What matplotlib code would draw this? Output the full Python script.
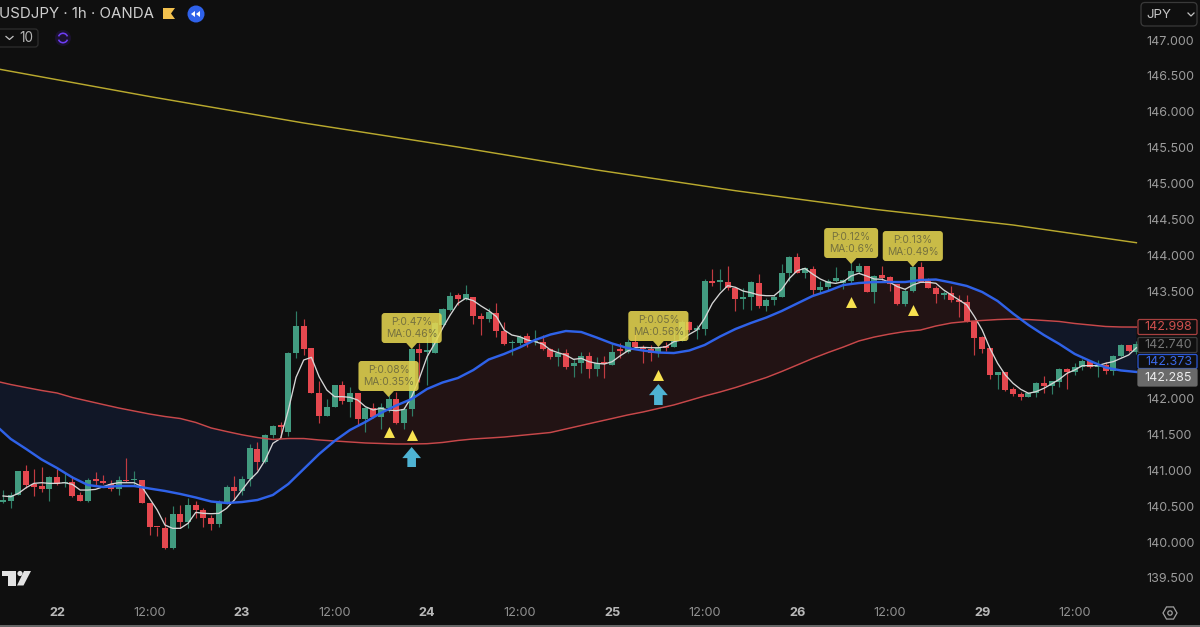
#!/usr/bin/env python3

import numpy as np
import matplotlib

matplotlib.use("Agg")
import matplotlib.pyplot as plt
from matplotlib.patches import Circle, FancyBboxPatch, Polygon, Wedge

plt.rcParams["font.family"] = ["Inter", "DejaVu Sans"]

# Hourly bars, numbered from midnight on the 22nd (weekend removed)
first_bar = -7

opens = [
    140.564, 140.573, 140.652, 140.986, 140.810, 140.787, 140.740, 140.907, 140.819, 140.833,
    140.652, 140.577, 140.866, 140.847, 140.815, 140.735, 140.870, 140.861, 140.866, 140.550,
    140.215, 140.196, 139.918, 140.396, 140.275, 140.517, 140.452, 140.336, 140.252, 140.540,
    140.773, 140.712, 140.875, 141.298, 141.112, 141.493, 141.618, 141.530, 142.641, 143.013,
    142.706, 142.083, 141.758, 141.888, 142.190, 141.958, 142.074, 141.712, 141.865, 141.739,
    141.865, 141.990, 141.656, 141.851, 142.692, 142.650, 142.641, 143.027, 143.236, 143.445,
    143.389, 143.412, 143.152, 143.110, 143.194, 142.948, 142.771, 142.780, 142.873, 142.785,
    142.785, 142.687, 142.576, 142.632, 142.455, 142.492, 142.594, 142.408, 142.501, 142.469,
    142.678, 142.645, 142.794, 142.724, 142.692, 142.645, 142.734, 142.715, 142.808, 143.073,
    142.957, 142.966, 143.644, 143.626, 143.631, 143.547, 143.394, 143.417, 143.612, 143.296,
    143.380, 143.412, 143.751, 143.979, 143.756, 143.807, 143.514, 143.552, 143.644, 143.617,
    143.644, 143.771, 143.854, 143.487, 143.720, 143.692, 143.594, 143.315, 143.497, 143.836,
    143.641, 143.538, 143.450, 143.469, 143.376, 143.352, 143.078, 142.855, 142.702, 142.335,
    142.372, 142.130, 142.065, 142.028, 142.084, 142.219, 142.181, 142.237, 142.414, 142.372,
    142.437, 142.521, 142.446, 142.470, 142.391, 142.595, 142.744, 142.650,
]
highs = [
    140.726, 140.703, 140.986, 141.075, 141.019, 141.051, 140.921, 141.014, 140.973, 140.926,
    140.694, 140.893, 140.982, 140.935, 140.866, 140.921, 141.177, 140.991, 140.866, 140.550,
    140.215, 140.345, 140.508, 140.517, 140.619, 140.573, 140.471, 140.378, 140.587, 140.796,
    140.926, 140.926, 141.368, 141.391, 141.507, 141.637, 141.670, 142.645, 143.222, 143.110,
    142.706, 142.251, 141.990, 142.190, 142.246, 142.158, 142.074, 141.888, 141.935, 141.944,
    142.051, 142.097, 141.888, 142.701, 142.771, 142.887, 143.064, 143.259, 143.491, 143.468,
    143.584, 143.412, 143.189, 143.259, 143.338, 143.073, 142.818, 142.887, 142.920, 142.957,
    142.887, 142.701, 142.701, 142.687, 142.548, 142.655, 142.655, 142.585, 142.594, 142.757,
    142.780, 142.827, 142.957, 142.748, 142.748, 142.734, 142.794, 142.957, 143.096, 143.087,
    143.026, 143.663, 143.807, 143.802, 143.854, 143.547, 143.538, 143.640, 143.737, 143.398,
    143.445, 143.877, 143.988, 144.026, 143.840, 143.854, 143.640, 143.663, 143.840, 143.663,
    143.886, 143.887, 143.854, 143.724, 143.854, 143.710, 143.594, 143.538, 143.850, 143.901,
    143.678, 143.576, 143.506, 143.576, 143.445, 143.445, 143.083, 142.878, 142.702, 142.367,
    142.372, 142.167, 142.098, 142.098, 142.228, 142.321, 142.251, 142.432, 142.432, 142.493,
    142.549, 142.530, 142.539, 142.516, 142.609, 142.762, 142.753, 142.800,
]
lows = [
    140.550, 140.471, 140.652, 140.749, 140.643, 140.703, 140.573, 140.796, 140.773, 140.633,
    140.573, 140.559, 140.796, 140.810, 140.717, 140.652, 140.842, 140.782, 140.540, 140.099,
    140.085, 139.899, 139.899, 140.192, 140.201, 140.331, 140.206, 140.169, 140.215, 140.531,
    140.587, 140.657, 140.787, 141.005, 141.098, 141.446, 141.446, 141.479, 142.571, 142.608,
    142.074, 141.665, 141.758, 141.879, 141.925, 141.739, 141.633, 141.540, 141.726, 141.577,
    141.818, 141.647, 141.577, 141.758, 142.237, 142.190, 142.632, 143.013, 143.226, 143.305,
    143.375, 143.041, 142.887, 143.073, 142.855, 142.748, 142.608, 142.748, 142.725, 142.748,
    142.678, 142.548, 142.455, 142.409, 142.306, 142.353, 142.283, 142.315, 142.283, 142.469,
    142.562, 142.631, 142.715, 142.492, 142.529, 142.585, 142.664, 142.715, 142.808, 142.933,
    142.831, 142.887, 143.570, 143.514, 143.514, 143.226, 143.245, 143.235, 143.259, 143.222,
    143.305, 143.412, 143.644, 143.747, 143.677, 143.445, 143.468, 143.505, 143.630, 143.524,
    143.607, 143.757, 143.487, 143.339, 143.655, 143.506, 143.306, 143.292, 143.487, 143.622,
    143.538, 143.329, 143.390, 143.352, 143.143, 143.074, 142.604, 142.642, 142.274, 142.130,
    142.112, 142.042, 141.982, 142.019, 142.019, 142.075, 142.065, 142.167, 142.130, 142.330,
    142.400, 142.423, 142.298, 142.344, 142.330, 142.586, 142.655, 142.620,
]
closes = [
    140.587, 140.657, 140.986, 140.791, 140.773, 140.740, 140.907, 140.815, 140.828, 140.647,
    140.577, 140.861, 140.852, 140.824, 140.735, 140.870, 140.847, 140.875, 140.550, 140.206,
    140.206, 139.918, 140.396, 140.275, 140.517, 140.452, 140.336, 140.252, 140.540, 140.773,
    140.717, 140.875, 141.307, 141.112, 141.498, 141.614, 141.604, 142.631, 143.013, 142.697,
    142.083, 141.758, 141.888, 142.190, 141.972, 142.074, 141.712, 141.865, 141.739, 141.888,
    141.990, 141.656, 141.851, 142.692, 142.632, 142.678, 143.050, 143.245, 143.436, 143.389,
    143.459, 143.152, 143.110, 143.203, 142.948, 142.762, 142.785, 142.864, 142.771, 142.808,
    142.687, 142.576, 142.641, 142.446, 142.492, 142.594, 142.408, 142.497, 142.483, 142.655,
    142.664, 142.785, 142.715, 142.692, 142.631, 142.706, 142.701, 142.808, 143.073, 142.957,
    142.971, 143.644, 143.612, 143.640, 143.547, 143.389, 143.412, 143.621, 143.296, 143.380,
    143.421, 143.751, 143.979, 143.747, 143.816, 143.514, 143.561, 143.644, 143.682, 143.654,
    143.775, 143.854, 143.487, 143.715, 143.682, 143.594, 143.315, 143.501, 143.836, 143.631,
    143.538, 143.455, 143.459, 143.371, 143.352, 143.083, 142.846, 142.697, 142.335, 142.367,
    142.121, 142.065, 142.019, 142.084, 142.219, 142.181, 142.242, 142.414, 142.377, 142.437,
    142.530, 142.446, 142.460, 142.386, 142.600, 142.744, 142.660, 142.762,
]

# Fast moving average (white), one value per bar
fast_ma = [
    140.643, 140.633, 140.680, 140.759, 140.819, 140.828, 140.819, 140.819, 140.828, 140.805,
    140.726, 140.726, 140.735, 140.773, 140.810, 140.828, 140.828, 140.828, 140.773, 140.610,
    140.447, 140.238, 140.192, 140.192, 140.262, 140.415, 140.401, 140.396, 140.401, 140.471,
    140.587, 140.726, 140.866, 140.973, 141.144, 141.377, 141.446, 141.840, 142.297, 142.539,
    142.576, 142.306, 142.120, 142.028, 142.028, 142.018, 141.981, 141.888, 141.842, 141.865,
    141.842, 141.832, 141.851, 142.028, 142.283, 142.585, 142.771, 142.980, 143.166, 143.329,
    143.398, 143.366, 143.292, 143.226, 143.143, 142.957, 142.887, 142.864, 142.818, 142.794,
    142.762, 142.678, 142.641, 142.608, 142.548, 142.562, 142.515, 142.492, 142.483, 142.515,
    142.594, 142.664, 142.710, 142.715, 142.710, 142.710, 142.724, 142.794, 142.817, 142.896,
    142.957, 143.119, 143.328, 143.468, 143.575, 143.552, 143.500, 143.477, 143.445, 143.435,
    143.435, 143.524, 143.677, 143.784, 143.816, 143.737, 143.668, 143.621, 143.607, 143.631,
    143.710, 143.747, 143.710, 143.668, 143.664, 143.622, 143.562, 143.524, 143.585, 143.622,
    143.622, 143.608, 143.515, 143.445, 143.376, 143.306, 143.143, 142.957, 142.702, 142.493,
    142.330, 142.214, 142.130, 142.075, 142.098, 142.144, 142.205, 142.270, 142.353, 142.400,
    142.460, 142.460, 142.460, 142.493, 142.516, 142.562, 142.609, 142.710,
]

# Slower averages, read every second bar
ma_bars = list(range(-8, 141, 2))
mid_ma = [
    141.633, 141.438, 141.298, 141.152, 141.033, 140.901, 140.796, 140.768, 140.782, 140.782,
    140.747, 140.713, 140.671, 140.622, 140.566, 140.545, 140.559, 140.587, 140.657, 140.810,
    141.019, 141.228, 141.410, 141.563, 141.675, 141.800, 141.905, 141.995, 142.135, 142.225,
    142.288, 142.399, 142.546, 142.623, 142.713, 142.818, 142.894, 142.943, 142.929, 142.852,
    142.769, 142.706, 142.671, 142.643, 142.636, 142.671, 142.748, 142.866, 142.971, 143.055,
    143.131, 143.222, 143.327, 143.431, 143.501, 143.584, 143.612, 143.626, 143.626, 143.626,
    143.654, 143.661, 143.619, 143.571, 143.487, 143.361, 143.187, 143.027, 142.887, 142.762,
    142.623, 142.525, 142.434, 142.393, 142.372,
]
slow_ma = [
    142.246, 142.197, 142.155, 142.114, 142.079, 142.016, 141.967, 141.918, 141.870, 141.828,
    141.786, 141.751, 141.723, 141.668, 141.591, 141.542, 141.496, 141.458, 141.431, 141.444,
    141.444, 141.424, 141.410, 141.396, 141.382, 141.375, 141.368, 141.368, 141.372, 141.389,
    141.417, 141.438, 141.451, 141.465, 141.486, 141.507, 141.528, 141.577, 141.626, 141.675,
    141.723, 141.772, 141.814, 141.863, 141.912, 141.974, 142.037, 142.093, 142.155, 142.225,
    142.295, 142.379, 142.469, 142.560, 142.643, 142.720, 142.804, 142.859, 142.901, 142.936,
    142.957, 143.013, 143.055, 143.076, 143.090, 143.103, 143.110, 143.103, 143.090, 143.076,
    143.048, 143.027, 143.006, 142.999, 142.998,
]
long_bars = [-8, 12, 32, 52, 70, 88, 106, 124, 140]
long_ma = [146.603, 146.212, 145.843, 145.508, 145.188, 144.899, 144.640, 144.421, 144.174]

# Signals
tag_bars = [43, 46, 78, 103, 111]
tag_tips = [142.023, 142.692, 142.720, 143.877, 143.835]
tag_widths = [7.8, 7.8, 7.8, 7.0, 7.8]
tag_texts = [
    "P:0.08%\nMA:0.35%",
    "P:0.47%\nMA:0.46%",
    "P:0.05%\nMA:0.56%",
    "P:0.12%\nMA:0.6%",
    "P:0.13%\nMA:0.49%",
]
triangle_bars = [43, 46, 78, 103, 111]
triangle_prices = [141.539, 141.493, 142.330, 143.347, 143.236]
arrow_bars = [46, 78]
arrow_tips = [141.326, 142.204]
arrow_tails = [141.047, 141.911]

# Axes (143.000 and 142.500 sit behind the price tags, so they are not shown)
price_ticks = [139.5, 140.0, 140.5, 141.0, 141.5, 142.0, 143.5, 144.0, 144.5, 145.0, 145.5, 146.0, 146.5, 147.0]
time_ticks = [0, 12, 24, 36, 48, 60, 72, 84, 96, 108, 120, 132]
time_labels = ["22", "12:00", "23", "12:00", "24", "12:00", "25", "12:00", "26", "12:00", "29", "12:00"]

# Right hand price tags: text, top, bottom, edge, face, text colour
price_tags = [
    ("142.998", 319.5, 334.5, "#a8403f", "#0f0f0f", "#d0504e"),
    ("142.740", 337.5, 352.5, "#3d3d3d", "#0f0f0f", "#777777"),
    ("142.373", 354.5, 368.5, "#2b58d6", "#0f0f0f", "#3a68e8"),
    ("142.285", 369.0, 386.0, "#6a6a6a", "#6a6a6a", "#ececec"),
]

BG = "#0f0f0f"
UP = "#429b80"
DOWN = "#e5484f"
UP_WICK = "#2f7d66"
DOWN_WICK = "#c23b41"
TAG_YELLOW = "#e6d650"

PX_PER_BAR = 7.71
PX_PER_PRICE = 71.73


def draw_candles(ax):
    o, h, l, c = map(np.array, (opens, highs, lows, closes))
    bars = np.arange(first_bar, first_bar + len(o))
    up = c >= o
    ax.vlines(bars[up], l[up], h[up], color=UP_WICK, lw=0.85, zorder=3)
    ax.vlines(bars[~up], l[~up], h[~up], color=DOWN_WICK, lw=0.85, zorder=3)
    bottoms = np.minimum(o, c)
    heights = np.maximum(np.abs(c - o), 0.025)
    ax.bar(bars[up], heights[up], bottom=bottoms[up], width=0.78, color=UP, lw=0, zorder=4)
    ax.bar(bars[~up], heights[~up], bottom=bottoms[~up], width=0.78, color=DOWN, lw=0, zorder=4)
    ax.plot(bars, fast_ma, color="#d6d6d6", lw=0.95, zorder=5)


def draw_averages(ax):
    x = np.array(ma_bars)
    mid, slow = np.array(mid_ma), np.array(slow_ma)
    ax.fill_between(x, mid, slow, where=slow >= mid, interpolate=True, color="#111727", lw=0, zorder=1)
    ax.fill_between(x, mid, slow, where=slow <= mid, interpolate=True, color="#221314", lw=0, zorder=1)
    ax.plot(x, slow, color="#c8484a", lw=1.05, zorder=6)
    ax.plot(x, mid, color="#2f62e8", lw=1.75, zorder=6)
    ax.plot(long_bars, long_ma, color="#b9a92e", lw=1.05, zorder=6)


def draw_signals(ax):
    box_h = 30 / PX_PER_PRICE
    gap = 6 / PX_PER_PRICE
    for bar, tip, w, text in zip(tag_bars, tag_tips, tag_widths, tag_texts):
        ax.add_patch(
            Polygon(
                [(bar, tip), (bar - 0.7, tip + gap), (bar + 0.7, tip + gap)],
                fc=TAG_YELLOW, ec="none", alpha=0.87, zorder=8,
            )
        )
        ax.add_patch(
            FancyBboxPatch(
                (bar - w / 2, tip + gap), w, box_h,
                boxstyle="round,pad=0,rounding_size=0.4",
                mutation_aspect=PX_PER_BAR / PX_PER_PRICE,
                fc=TAG_YELLOW, ec="none", alpha=0.87, zorder=8,
            )
        )
        ax.text(
            bar, tip + gap + box_h / 2, text, ha="center", va="center",
            fontsize=7.4, color="#75713f", linespacing=1.2, zorder=9,
        )
    ax.scatter(triangle_bars, triangle_prices, marker="^", s=62, color="#f8e250", lw=0, zorder=8)
    for bar, tip, tail in zip(arrow_bars, arrow_tips, arrow_tails):
        ax.annotate(
            "", xy=(bar, tip), xytext=(bar, tail),
            arrowprops=dict(
                arrowstyle="simple,head_length=0.8,head_width=1.35,tail_width=0.62",
                mutation_scale=10, color="#4eb3d3", lw=0, shrinkA=0, shrinkB=0,
            ),
            zorder=8,
        )


def draw_ui(ui):
    # Header
    ui.text(-1, 14, "USDJPY · 1h · OANDA", fontsize=10.8, color="#cfcfcf", va="center", ha="left")
    ui.add_patch(Polygon([(163, 8), (175, 8), (171, 13.5), (175, 19), (163, 19)], fc="#f2c14e", ec="none"))
    ui.add_patch(Circle((196, 14), 8.5, fc="#2f62ea", ec="none"))
    ui.add_patch(Polygon([(191, 14), (195, 11), (195, 17)], fc="white", ec="none"))
    ui.add_patch(Polygon([(196, 14), (200, 11), (200, 17)], fc="white", ec="none"))

    # Interval box
    ui.add_patch(
        FancyBboxPatch((-6, 29), 44, 18, boxstyle="round,pad=0,rounding_size=3", fc=BG, ec="#2e2e2e", lw=0.9)
    )
    ui.plot([6, 9.5, 13], [36.5, 39.5, 36.5], color="#c4c4c4", lw=0.9)
    ui.text(26.5, 38.5, "10", fontsize=9.8, color="#b5b5b5", ha="center", va="center")
    ui.add_patch(Circle((63, 38), 8, fc="#1b1230", ec="none"))
    ui.add_patch(Wedge((63, 38), 5.5, 20, 160, width=1.6, fc="#6d3df5", ec="none"))
    ui.add_patch(Wedge((63, 38), 5.5, 200, 340, width=1.6, fc="#6d3df5", ec="none"))

    # Currency selector
    ui.add_patch(
        FancyBboxPatch((1141, 2.5), 56, 23.5, boxstyle="round,pad=0,rounding_size=4", fc=BG, ec="#3a3a3a", lw=0.9)
    )
    ui.text(1146, 14.5, "JPY", fontsize=9.6, color="#c4c4c4", ha="left", va="center")
    ui.plot([1188, 1191, 1194], [13, 16, 13], color="#c4c4c4", lw=0.9)

    # Price tags
    for text, top, bottom, edge, face, color in price_tags:
        ui.add_patch(
            FancyBboxPatch(
                (1138, top), 59, bottom - top, boxstyle="round,pad=0,rounding_size=1.5",
                fc=face, ec=edge, lw=0.9,
            )
        )
        ui.text(1192, (top + bottom) / 2 + 0.5, text, fontsize=9.0, color=color, ha="right", va="center")

    # TradingView mark
    ui.add_patch(Polygon([(2, 571), (16, 571), (16, 585.5), (7.5, 585.5), (7.5, 576), (2, 576)], fc="#e2e2e2", ec="none"))
    ui.add_patch(Circle((20, 573.5), 2.6, fc="#e2e2e2", ec="none"))
    ui.add_patch(Polygon([(24, 571), (31, 571), (23.5, 585.5), (17, 585.5)], fc="#e2e2e2", ec="none"))

    # Settings hexagon
    angles = np.deg2rad(np.arange(0, 360, 60))
    ui.add_patch(
        Polygon(np.c_[1170 + 7 * np.cos(angles), 613 + 7 * np.sin(angles)], fc="none", ec="#a0a0a0", lw=0.9)
    )
    ui.add_patch(Circle((1170, 613), 2.2, fc="none", ec="#a0a0a0", lw=0.9))

    # Bottom strip
    ui.add_patch(Polygon([(0, 624.5), (1200, 624.5), (1200, 627), (0, 627)], fc="#666666", ec="none"))


def main():
    fig = plt.figure(figsize=(12, 6.27), dpi=100, facecolor=BG)

    # Chart area: 0-1138 px wide, 0-600 px tall, 147.000 sits at y=40 px
    ax = fig.add_axes([0, 27 / 627, 1138 / 1200, 600 / 627], facecolor=BG)
    ax.set_xlim(-57 / PX_PER_BAR, (1138 - 57) / PX_PER_BAR)
    ax.set_ylim(147 - 560 / PX_PER_PRICE, 147 + 40 / PX_PER_PRICE)
    for spine in ax.spines.values():
        spine.set_visible(False)

    draw_averages(ax)
    draw_candles(ax)
    draw_signals(ax)

    ax.yaxis.tick_right()
    ax.set_yticks(price_ticks, [f"{p:.3f}" for p in price_ticks])
    ax.tick_params(axis="y", length=0, pad=5.8, labelsize=9.0, labelcolor="#9c9c9c")
    ax.set_xticks(time_ticks, time_labels)
    ax.tick_params(axis="x", length=0, pad=5, labelsize=9.2, labelcolor="#8f8f8f")
    for label in ax.get_xticklabels():
        if ":" not in label.get_text():
            label.set_fontweight("bold")
            label.set_color("#b8b8b8")

    ui = fig.add_axes([0, 0, 1, 1], facecolor="none")
    ui.set_xlim(0, 1200)
    ui.set_ylim(627, 0)
    ui.axis("off")
    draw_ui(ui)

    fig.savefig("out.png", dpi=100, facecolor=BG)


if __name__ == "__main__":
    main()
